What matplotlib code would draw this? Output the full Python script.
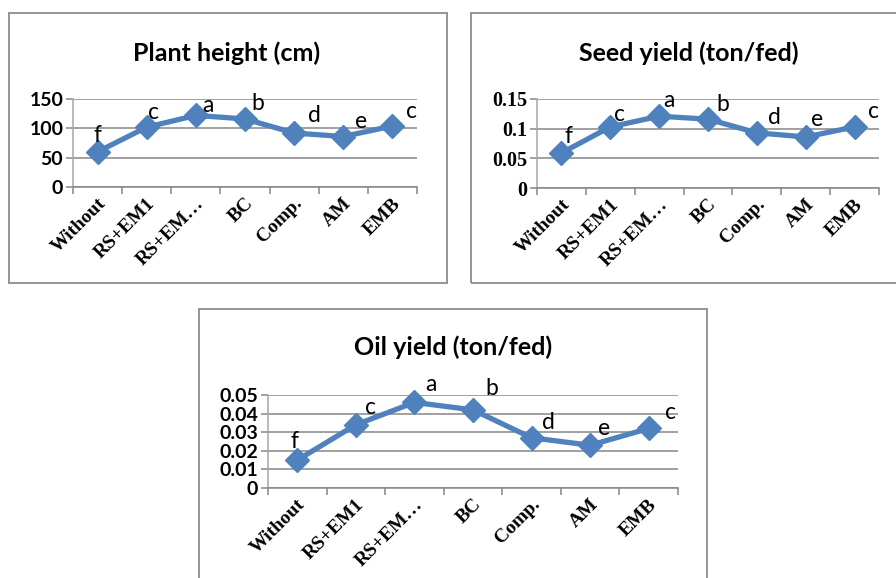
import matplotlib
matplotlib.use("Agg")
import matplotlib.pyplot as plt
from matplotlib.patches import Rectangle

W, H = 896, 578

treatments = ["Without", "RS+EM1", "RS+EM…", "BC", "Comp.", "AM", "EMB"]
letters = ["f", "c", "a", "b", "d", "e", "c"]

plant_height = [60, 102, 122, 116, 92, 86, 104]
seed_yield = [0.059, 0.103, 0.121, 0.116, 0.093, 0.086, 0.103]
oil_yield = [0.015, 0.034, 0.046, 0.042, 0.027, 0.023, 0.032]

height_ticks = [0, 50, 100, 150]
height_labels = ["0", "50", "100", "150"]
seed_ticks = [0, 0.05, 0.10, 0.15]
seed_labels = ["0", "0.05", "0.1", "0.15"]
oil_ticks = [0, 0.01, 0.02, 0.03, 0.04, 0.05]
oil_labels = ["0", "0.01", "0.02", "0.03", "0.04", "0.05"]

BLUE = "#4F81BD"
GRID = "#868686"
FRAME = "#8C8C8C"
SANS = ["Lato", "Open Sans", "DejaVu Sans"]
SERIF = ["Liberation Serif", "DejaVu Serif"]

fig = plt.figure(figsize=(W / 100, H / 100), dpi=100)


def fig_box(x0, y0, x1, y1):
    """Pixel box (top-left origin) -> figure fraction [l, b, w, h]."""
    return [x0 / W, 1 - y1 / H, (x1 - x0) / W, (y1 - y0) / H]


def frame(x0, y0, x1, y1):
    l, b, w, h = fig_box(x0, y0, x1, y1)
    fig.add_artist(Rectangle((l, b), w, h, transform=fig.transFigure,
                             fill=False, edgecolor=FRAME, linewidth=1.3))


def panel(box, title, title_xy, values, ticks, tick_labels, ymax,
          ytick_family, ytick_size, label_offsets):
    ax = fig.add_axes(fig_box(*box))
    x = list(range(len(values)))
    ax.plot(x, values, color=BLUE, linewidth=3.8, marker="D",
            markersize=12, markerfacecolor=BLUE, markeredgecolor=BLUE,
            zorder=3, clip_on=False)
    ax.set_xlim(-0.5, len(values) - 0.5)
    ax.set_ylim(0, ymax)

    ax.set_yticks(ticks)
    ax.set_yticklabels(tick_labels, fontfamily=ytick_family,
                       fontweight="bold", fontsize=ytick_size)
    ax.yaxis.grid(True, color=GRID, linewidth=1.1)
    ax.set_axisbelow(True)
    ax.tick_params(axis="y", length=5, width=1.1, color=GRID, pad=2)

    ax.set_xticks(x)
    ax.set_xticklabels([])
    ax.set_xticks([i - 0.5 for i in range(len(values) + 1)], minor=True)
    ax.tick_params(axis="x", which="major", length=0)
    ax.tick_params(axis="x", which="minor", length=5, width=1.1,
                   color=GRID, direction="out")
    for i, name in enumerate(treatments):
        ax.annotate(name, xy=(i, 0), xycoords=("data", "axes fraction"),
                    xytext=(4, -10), textcoords="offset points",
                    rotation=45, rotation_mode="anchor",
                    ha="right", va="center", fontfamily=SERIF,
                    fontweight="bold", fontsize=14)

    for side in ("top", "right"):
        ax.spines[side].set_visible(False)
    ax.spines["left"].set_color("#A6A6A6")
    ax.spines["left"].set_linewidth(1.1)
    ax.spines["bottom"].set_color(GRID)
    ax.spines["bottom"].set_linewidth(1.1)

    for i, (v, s) in enumerate(zip(values, letters)):
        dx, dy = label_offsets[i]
        ax.annotate(s, xy=(i, v), xytext=(dx * 0.72, -dy * 0.72),
                    textcoords="offset points", ha="center", va="center",
                    fontfamily=SANS, fontsize=16.5, zorder=4)

    fig.text(title_xy[0] / W, 1 - title_xy[1] / H, title,
             ha="center", va="center", fontfamily=SANS,
             fontweight="bold", fontsize=18)
    return ax


# outer frames of the three chart boxes
frame(9, 13, 447, 283)
frame(471, 13, 898, 283)
frame(199, 309, 707, 580)

panel((73, 99, 417, 187), "Plant height (cm)", (227, 53),
      plant_height, height_ticks, height_labels, 150, SANS, 14,
      [(0, -16), (7, -15), (12, -10), (13, -15), (20, -18), (18, -15), (19, -14)])

panel((537, 99, 879, 188), "Seed yield (ton/fed)", (689, 53),
      seed_yield, seed_ticks, seed_labels, 0.15, SERIF, 14.5,
      [(7, -16), (9, -12), (10, -16), (15, -15), (18, -15), (11, -17), (19, -15)])

panel((268, 395, 678, 488), "Oil yield (ton/fed)", (453, 347),
      oil_yield, oil_ticks, oil_labels, 0.05, SANS, 14,
      [(-3, -19), (15, -17), (17, -18), (19, -21), (17, -15), (14, -17), (22, -16)])

fig.savefig("out.png", dpi=100, facecolor="white")
